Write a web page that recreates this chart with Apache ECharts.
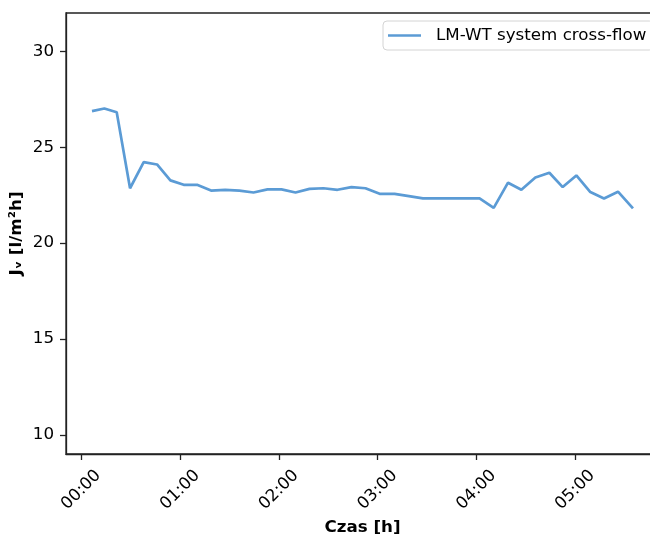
<!DOCTYPE html>
<html>
<head>
<meta charset="utf-8">
<script src="https://cdn.jsdelivr.net/npm/echarts@6/dist/echarts.min.js"></script>
<style>
html,body{margin:0;padding:0;background:#fff;}
#chart{width:650px;height:534px;}
</style>
</head>
<body>
<div id="chart"></div>
<script>
// time in minutes from start
const timeMin = [6.5, 14.0, 21.5, 29.6, 37.9, 46.0, 54.1, 62.2, 70.3, 78.8,
  87.4, 96.0, 104.6, 113.1, 121.6, 130.1, 138.6, 147.1, 155.6, 164.1,
  172.6, 181.2, 190.3, 199.0, 207.5, 216.2, 224.7, 233.4, 241.9, 250.5,
  259.2, 267.3, 275.8, 284.3, 292.4, 300.7, 309.2, 317.5, 326.0, 335.1];
const fluxJv = [26.88, 27.02, 26.82, 22.86, 24.22, 24.10, 23.27, 23.04, 23.04, 22.74,
  22.78, 22.74, 22.64, 22.80, 22.80, 22.64, 22.83, 22.86, 22.78, 22.92,
  22.86, 22.57, 22.57, 22.45, 22.33, 22.33, 22.33, 22.33, 22.33, 21.84,
  23.15, 22.78, 23.42, 23.67, 22.92, 23.53, 22.66, 22.33, 22.68, 21.81];
const xTickValues = [0, 60, 120, 180, 240, 300];
const xTickLabels = ['00:00', '01:00', '02:00', '03:00', '04:00', '05:00'];
const yTickValues = [10, 15, 20, 25, 30];
const seriesName = 'LM-WT system cross-flow';

const FONT = 'DejaVu Sans';
const chart = echarts.init(document.getElementById('chart'), null, {renderer: 'canvas'});
const option = {
  animation: false,
  backgroundColor: '#ffffff',
  textStyle: {fontFamily: FONT},
  grid: {
    left: 66, top: 13, right: -9, bottom: 80,
    containLabel: false,
    outerBoundsMode: 'none',
    show: true, borderColor: '#222', borderWidth: 1.3, backgroundColor: 'transparent'
  },
  legend: {
    data: [seriesName],
    left: 383, top: 21,
    orient: 'horizontal',
    icon: 'rect',
    itemWidth: 33, itemHeight: 2.6,
    padding: [6, 7, 6, 5],
    backgroundColor: '#fff',
    borderColor: '#d4d4d4', borderWidth: 1, borderRadius: 4,
    textStyle: {fontFamily: FONT, fontSize: 16.7, color: '#000', padding: [0, 0, 0, 10]}
  },
  xAxis: {
    type: 'value',
    min: -9.3, max: 350.9,
    name: 'Czas [h]',
    nameLocation: 'middle',
    nameGap: 65,
    nameMoveOverlap: false,
    nameTextStyle: {fontFamily: FONT, fontSize: 16.7, fontWeight: 'bold', color: '#000'},
    axisLine: {show: true, onZero: false, lineStyle: {color: '#222', width: 1.3}},
    axisTick: {show: true, length: 6, lineStyle: {color: '#222', width: 1.3}, customValues: xTickValues},
    axisLabel: {
      customValues: xTickValues,
      rotate: 45, margin: 36, align: 'center', verticalAlign: 'middle',
      fontFamily: FONT, fontSize: 16.7, color: '#000',
      formatter: function (v) { const i = xTickValues.indexOf(Math.round(v)); return i >= 0 ? xTickLabels[i] : ''; }
    },
    splitLine: {show: false}
  },
  yAxis: {
    type: 'value',
    min: 9, max: 32,
    name: 'Jᵥ [l/m²h]',
    nameLocation: 'middle',
    nameGap: 41,
    nameRotate: 90,
    nameMoveOverlap: false,
    nameTextStyle: {fontFamily: FONT, fontSize: 16.7, fontWeight: 'bold', color: '#000'},
    axisLine: {show: true, onZero: false, lineStyle: {color: '#222', width: 1.3}},
    axisTick: {show: true, length: 6, lineStyle: {color: '#222', width: 1.3}, customValues: yTickValues},
    axisLabel: {customValues: yTickValues, margin: 12, fontFamily: FONT, fontSize: 16.7, color: '#000'},
    splitLine: {show: false}
  },
  series: [{
    name: seriesName,
    type: 'line',
    data: timeMin.map((t, i) => [t, fluxJv[i]]),
    symbol: 'none',
    showSymbol: false,
    lineStyle: {color: '#5b9bd5', width: 2.7},
    itemStyle: {color: '#5b9bd5'}
  }]
};
chart.setOption(option);
</script>
</body>
</html>
